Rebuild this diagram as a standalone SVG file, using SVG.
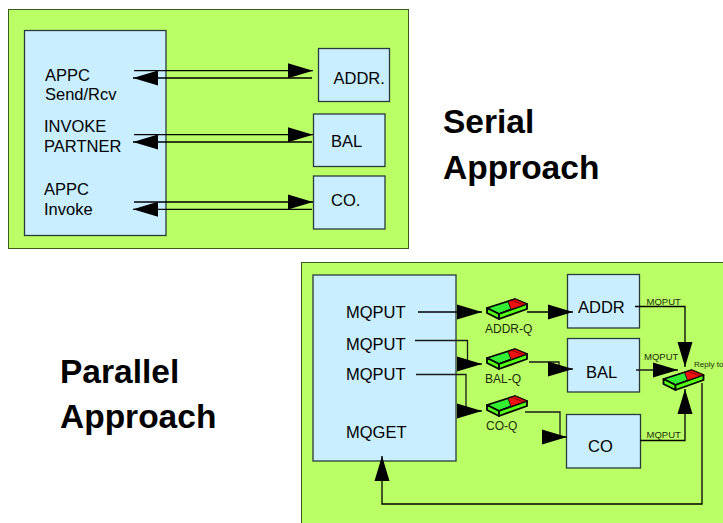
<svg xmlns="http://www.w3.org/2000/svg" width="723" height="523" viewBox="0 0 723 523">
<style>
text{font-family:"Liberation Sans",Arial,sans-serif;fill:#000}
.m{font-size:16.500px}
.h{font-size:33.500px;font-weight:bold}
.q{font-size:12px;fill:#1c2c0c}
.s{font-size:9.500px;fill:#1c2c0c}
.bg{fill:#bbff66;stroke:#3a5a20;stroke-width:1}
.n{fill:#c8eeff;stroke:#2a3a3a;stroke-width:1.300}
.c{fill:none;stroke:#000;stroke-width:1.300}
.d{fill:none;stroke:#1a1a1a;stroke-width:1.300}
</style>
<defs>
<marker id="a" markerUnits="userSpaceOnUse" markerWidth="27" markerHeight="16" refX="26" refY="8" orient="auto"><path d="M1 .5L26 8L1 15.500Z" fill="#000"/></marker>
<g id="queue" stroke="#000" stroke-width="1.800" stroke-linejoin="round">
<path d="M0 10L28 1L40 6L12 16Z" fill="#33ee33"/>
<path d="M0 10L12 16V21L0 15Z" fill="#55ff11"/>
<path d="M12 16L40 6V11L12 21Z" fill="#55ff11"/>
<path d="M21 3.500L28 1L40 6L24 11.500Z" fill="#ee1111" stroke-width=".8"/>
<path d="M25 2.500L37 7M29 1.500L39 6" fill="none" stroke="#660000" stroke-width=".7"/>
</g>
</defs>
<rect class="bg" x="8.500" y="9.500" width="400" height="239"/>
<rect class="bg" x="301.500" y="262.500" width="430" height="270"/>
<g id="serial-title"><text class="h" x="443" y="133">Serial</text><text class="h" x="443" y="179">Approach</text></g>
<g id="parallel-title"><text class="h" x="60" y="383">Parallel</text><text class="h" x="60" y="428">Approach</text></g>
<g id="serial-client"><rect class="n" x="24.500" y="30.500" width="141.500" height="205"/>
<text class="m" x="45" y="81">APPC</text><text class="m" x="45" y="100">Send/Rcv</text>
<text class="m" x="44" y="132">INVOKE</text><text class="m" x="44" y="152">PARTNER</text>
<text class="m" x="44" y="195">APPC</text><text class="m" x="44" y="215">Invoke</text></g>
<g id="serial-addr"><rect class="n" x="318.500" y="48.500" width="71" height="53"/><text class="m" x="333.500" y="84">ADDR.</text></g>
<g id="serial-bal"><rect class="n" x="313.500" y="114" width="71.500" height="52.500"/><text class="m" x="331" y="147">BAL</text></g>
<g id="serial-co"><rect class="n" x="313.500" y="176" width="71.500" height="53"/><text class="m" x="331" y="206">CO.</text></g>
<g id="parallel-client"><rect class="n" x="313" y="275" width="143" height="186"/>
<text class="m" x="346" y="318">MQPUT</text><text class="m" x="346" y="350">MQPUT</text><text class="m" x="346" y="380">MQPUT</text><text class="m" x="346" y="438">MQGET</text></g>
<g id="parallel-addr"><rect class="n" x="567.500" y="274.500" width="72" height="53.500"/><text class="m" x="578" y="313">ADDR</text></g>
<g id="parallel-bal"><rect class="n" x="567.500" y="338.500" width="72" height="53.500"/><text class="m" x="586" y="378">BAL</text></g>
<g id="parallel-co"><rect class="n" x="566.500" y="414.500" width="74" height="53.500"/><text class="m" x="588" y="452">CO</text></g>
<g id="queue-addr"><use href="#queue" x="487" y="298"/><text class="q" x="485" y="333">ADDR-Q</text></g>
<g id="queue-bal"><use href="#queue" x="487" y="348"/><text class="q" x="485" y="383">BAL-Q</text></g>
<g id="queue-co"><use href="#queue" x="487" y="395"/><text class="q" x="486" y="430">CO-Q</text></g>
<g id="queue-reply"><use href="#queue" x="663.500" y="369"/><text class="s" style="font-size:8px" x="694" y="367">Reply to</text></g>
<g id="connectors">
<path class="c" d="M134 70.700H313" marker-end="url(#a)"/>
<path class="c" d="M312 78H133" marker-end="url(#a)"/>
<path class="c" d="M134 134.700H313" marker-end="url(#a)"/>
<path class="c" d="M312 142H133" marker-end="url(#a)"/>
<path class="c" d="M134 202H313" marker-end="url(#a)"/>
<path class="c" d="M312 209.300H133" marker-end="url(#a)"/>
<path class="c" d="M418 312H482" marker-end="url(#a)"/>
<path class="d" d="M415 340.500H467.500V364H482" marker-end="url(#a)"/>
<path class="d" d="M416 374.500H466V411H482" marker-end="url(#a)"/>
<path class="c" d="M527 312H573" marker-end="url(#a)"/>
<path class="d" d="M529 362H559V369H573" marker-end="url(#a)"/>
<path class="d" d="M525 412H560V437H567" marker-end="url(#a)"/>
<path class="c" d="M635 306.500H685V367" marker-end="url(#a)"/>
<path class="d" d="M636 370H678" marker-end="url(#a)"/>
<path class="c" d="M640 440.500H685V389" marker-end="url(#a)"/>
<path class="c" d="M702 383V504H382V456" marker-end="url(#a)"/>
</g>
<g id="connector-labels"><text class="s" x="646.500" y="305">MQPUT</text><text class="s" x="644" y="360">MQPUT</text><text class="s" x="646.500" y="438">MQPUT</text></g>
</svg>
